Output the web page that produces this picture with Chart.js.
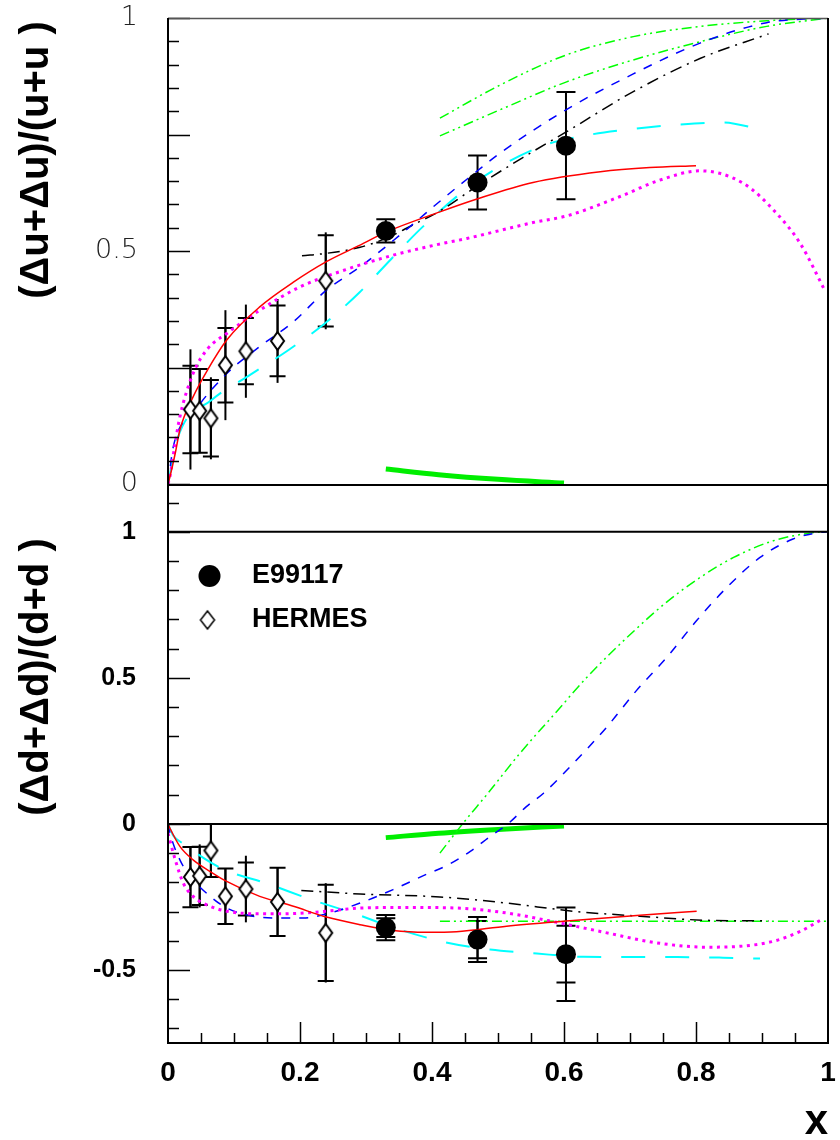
<!DOCTYPE html>
<html>
<head>
<meta charset="utf-8">
<script src="https://cdn.jsdelivr.net/npm/chart.js@4.4.0/dist/chart.umd.min.js"></script>
<style>
  html, body { margin: 0; padding: 0; background: #fff; }
  body { width: 840px; height: 1140px; position: relative; overflow: hidden; }
  canvas { position: absolute; left: 0; }
  #topChart { top: 0; }
  #bottomChart { top: 470px; }
</style>
</head>
<body>
<canvas id="topChart" width="840" height="520"></canvas>
<canvas id="bottomChart" width="840" height="690"></canvas>
<script>
// --- tick labels ---
const xTicks = [0, 0.2, 0.4, 0.6, 0.8, 1];
const yTopTicks = [0, 0.5, 1];
const yBottomTicks = [-0.5, 0, 0.5, 1];

// --- data points ---
const e99X = [0.330, 0.469, 0.603];
const e99TopY = [0.543, 0.647, 0.726];
const e99TopErr = [0.025, 0.058, 0.115];
const e99BotY = [-0.355, -0.396, -0.446];
const e99BotStat = [0.032, 0.064, 0.097];
const e99BotTot = [0.043, 0.077, 0.160];

const hermesX = [0.034, 0.048, 0.065, 0.087, 0.118, 0.166, 0.239];
const hermesTopY = [0.160, 0.157, 0.141, 0.255, 0.285, 0.307, 0.436];
const hermesTopStat = [0.094, 0.090, 0.082, 0.080, 0.071, 0.076, 0.098];
const hermesTopTot = [0.129, 0.091, 0.088, 0.118, 0.100, 0.090, 0.104];
const hermesBotY = [-0.182, -0.178, -0.091, -0.248, -0.223, -0.267, -0.373];
const hermesBotStat = [0.103, 0.100, 0.091, 0.095, 0.091, 0.117, 0.165];
const hermesBotTot = [0.105, 0.108, 0.093, 0.095, 0.114, 0.117, 0.170];

// --- curves, upper panel ---
const redTopX = [0, 0.003, 0.011, 0.018, 0.038, 0.06, 0.089, 0.139, 0.19, 0.24, 0.29, 0.331, 0.412, 0.467, 0.553, 0.655, 0.73, 0.8];
const redTopY = [0, 0.016, 0.066, 0.116, 0.187, 0.245, 0.309, 0.38, 0.433, 0.477, 0.512, 0.541, 0.584, 0.611, 0.647, 0.670, 0.679, 0.683];
const magTopX = [0, 0.003, 0.01, 0.018, 0.038, 0.06, 0.089, 0.139, 0.2, 0.261, 0.341, 0.412, 0.453, 0.553, 0.606, 0.685, 0.745, 0.806, 0.872, 0.922, 0.958, 0.995];
const magTopY = [0, 0.016, 0.08, 0.144, 0.237, 0.29, 0.323, 0.373, 0.423, 0.456, 0.491, 0.515, 0.527, 0.561, 0.576, 0.617, 0.652, 0.672, 0.645, 0.581, 0.516, 0.416];
const blueTopX = [0, 0.008, 0.038, 0.089, 0.139, 0.19, 0.24, 0.291, 0.341, 0.379, 0.402, 0.467, 0.503, 0.603, 0.705, 0.806, 0.907, 0.983, 1.0];
const blueTopY = [0, 0.08, 0.152, 0.237, 0.295, 0.348, 0.416, 0.466, 0.522, 0.567, 0.595, 0.67, 0.71, 0.803, 0.88, 0.946, 0.99, 0.999, 1.0];
const blackTopX = [0.203, 0.24, 0.291, 0.33, 0.371, 0.412, 0.467, 0.537, 0.604, 0.705, 0.806, 0.91];
const blackTopY = [0.490, 0.495, 0.508, 0.527, 0.556, 0.586, 0.638, 0.70, 0.756, 0.842, 0.913, 0.966];
const cyanTopX = [0, 0.015, 0.066, 0.122, 0.181, 0.238, 0.290, 0.339, 0.389, 0.470, 0.566, 0.629, 0.705, 0.771, 0.841, 0.898];
const cyanTopY = [0, 0.10, 0.18, 0.232, 0.286, 0.345, 0.411, 0.484, 0.556, 0.652, 0.725, 0.747, 0.762, 0.771, 0.776, 0.761];
const greenAX = [0.412, 0.503, 0.604, 0.705, 0.806, 0.907, 1.0];
const greenATopY = [0.785, 0.856, 0.921, 0.960, 0.982, 0.994, 1.0];
const greenBTopY = [0.747, 0.803, 0.863, 0.910, 0.949, 0.982, 1.0];
const thickX = [0.33, 0.41, 0.5, 0.6];
const thickTopY = [0.032, 0.02, 0.01, 0.002];

// --- curves, lower panel ---
const redBotX = [0, 0.003, 0.018, 0.038, 0.064, 0.089, 0.139, 0.190, 0.240, 0.291, 0.341, 0.392, 0.437, 0.513, 0.614, 0.715, 0.801];
const redBotY = [0, -0.015, -0.077, -0.123, -0.163, -0.197, -0.248, -0.282, -0.319, -0.345, -0.365, -0.371, -0.369, -0.350, -0.331, -0.313, -0.299];
const magBotX = [0, 0.011, 0.023, 0.038, 0.064, 0.089, 0.139, 0.190, 0.240, 0.291, 0.367, 0.437, 0.513, 0.589, 0.665, 0.740, 0.816, 0.867, 0.917, 0.958, 0.990];
const magBotY = [-0.032, -0.123, -0.202, -0.248, -0.282, -0.299, -0.308, -0.307, -0.299, -0.288, -0.286, -0.288, -0.305, -0.337, -0.373, -0.407, -0.422, -0.419, -0.402, -0.368, -0.328];
const blueBotX = [0, 0.003, 0.018, 0.038, 0.064, 0.089, 0.129, 0.165, 0.205, 0.24, 0.291, 0.341, 0.392, 0.422, 0.458, 0.488, 0.516, 0.543, 0.569, 0.614, 0.665, 0.710, 0.756, 0.801, 0.847, 0.897, 0.947, 0.988, 1.0];
const blueBotY = [0, -0.032, -0.123, -0.191, -0.248, -0.288, -0.316, -0.322, -0.322, -0.308, -0.271, -0.225, -0.172, -0.143, -0.094, -0.043, 0.002, 0.059, 0.105, 0.207, 0.332, 0.457, 0.571, 0.696, 0.810, 0.912, 0.975, 0.998, 1.0];
const blackBotX = [0.202, 0.291, 0.412, 0.513, 0.614, 0.715, 0.816, 0.91];
const blackBotY = [-0.228, -0.240, -0.250, -0.271, -0.299, -0.316, -0.330, -0.332];
const cyanBotX = [0, 0.008, 0.022, 0.081, 0.150, 0.218, 0.280, 0.347, 0.420, 0.488, 0.559, 0.629, 0.700, 0.771, 0.841, 0.897];
const cyanBotY = [0, -0.04, -0.066, -0.152, -0.204, -0.260, -0.305, -0.359, -0.405, -0.430, -0.444, -0.455, -0.456, -0.456, -0.458, -0.461];
const greenCX = [0.412, 0.447, 0.483, 0.533, 0.589, 0.634, 0.695, 0.756, 0.806, 0.857, 0.917, 0.978, 1.0];
const greenCBotY = [-0.10, 0.002, 0.10, 0.241, 0.385, 0.50, 0.637, 0.76, 0.843, 0.912, 0.969, 0.997, 1.0];
const greenDX = [0.412, 0.6, 0.8, 1.0];
const greenDBotY = [-0.333, -0.333, -0.333, -0.333];
const thickBotY = [-0.047, -0.032, -0.019, -0.007];

const toPts = (xs, ys) => xs.map((x, i) => ({ x, y: ys[i] }));

// open diamond marker (taller than wide)
function diamond(w, h, lw) {
    const c = document.createElement('canvas');
    c.width = w + 4; c.height = h + 4;
    const g = c.getContext('2d');
    g.beginPath();
    g.moveTo(c.width / 2, 2);
    g.lineTo(c.width - 2, c.height / 2);
    g.lineTo(c.width / 2, c.height - 2);
    g.lineTo(2, c.height / 2);
    g.closePath();
    g.fillStyle = '#fff';
    g.fill();
    g.lineWidth = lw;
    g.strokeStyle = '#000';
    g.stroke();
    return c;
}
const diamondImg = diamond(13, 18, 2);

function curve(label, xs, ys, color, width, dash) {
    return {
        label, data: toPts(xs, ys), showLine: true,
        borderColor: color, backgroundColor: color,
        borderWidth: width, borderDash: dash || [], borderCapStyle: 'butt',
        pointRadius: 0, pointHoverRadius: 0,
        cubicInterpolationMode: 'monotone', fill: false, order: 2
    };
}

function marks(label, xs, ys, style) {
    const ds = {
        label, data: toPts(xs, ys), showLine: false, order: 0,
        pointHoverRadius: 0
    };
    if (style === 'circle') {
        Object.assign(ds, { pointStyle: 'circle', pointRadius: 10, backgroundColor: '#000', borderColor: '#000', borderWidth: 0 });
    } else {
        Object.assign(ds, { pointStyle: diamondImg, pointRadius: 9 });
    }
    return ds;
}

function errBars(chart, xs, ys, errs, capW, withCaps) {
    const { ctx, scales: { x, y } } = chart;
    ctx.save();
    ctx.strokeStyle = '#000';
    ctx.lineWidth = 2;
    xs.forEach((xv, i) => {
        const px = x.getPixelForValue(xv);
        const t = y.getPixelForValue(ys[i] + errs[i]);
        const b = y.getPixelForValue(ys[i] - errs[i]);
        ctx.beginPath();
        ctx.moveTo(px, t); ctx.lineTo(px, b);
        if (withCaps) {
            ctx.moveTo(px - capW / 2, t); ctx.lineTo(px + capW / 2, t);
            ctx.moveTo(px - capW / 2, b); ctx.lineTo(px + capW / 2, b);
        }
        ctx.stroke();
    });
    ctx.restore();
}

function yTickMarks(chart, from, to, step, major) {
    const { ctx, chartArea: a, scales: { y } } = chart;
    ctx.save();
    ctx.strokeStyle = '#000';
    ctx.lineWidth = 1.5;
    ctx.beginPath();
    for (let k = Math.round(from / step); k <= Math.round(to / step); k++) {
        const v = k * step;
        const isMajor = Math.abs(v / major - Math.round(v / major)) < 1e-6;
        const py = Math.round(y.getPixelForValue(v)) + 0.5;
        ctx.moveTo(a.left, py);
        ctx.lineTo(a.left + (isMajor ? 22 : 11), py);
    }
    ctx.stroke();
    ctx.restore();
}

function yTitle(ctx, text, cx, cy) {
    ctx.save();
    ctx.translate(cx, cy);
    ctx.rotate(-Math.PI / 2);
    ctx.font = 'bold 40px "Liberation Sans", Arial, sans-serif';
    ctx.textAlign = 'center';
    ctx.textBaseline = 'middle';
    ctx.fillStyle = '#000';
    ctx.fillText(text, 0, 0);
    ctx.restore();
}

const topDecor = {
    id: 'topDecor',
    beforeDatasetsDraw(chart) {
        errBars(chart, hermesX, hermesTopY, hermesTopTot, 16, false);
        errBars(chart, hermesX, hermesTopY, hermesTopStat, 16, true);
        errBars(chart, e99X, e99TopY, e99TopErr, 19, true);
    },
    afterDraw(chart) {
        const { ctx, chartArea: a } = chart;
        yTickMarks(chart, 0, 1, 0.05, 0.25);
        ctx.save();
        ctx.strokeStyle = '#555';
        ctx.lineWidth = 1.5;
        ctx.beginPath();
        ctx.moveTo(a.left, a.top + 0.5); ctx.lineTo(a.right, a.top + 0.5);
        ctx.stroke();
        ctx.strokeStyle = '#000';
        ctx.lineWidth = 2;
        ctx.beginPath();
        ctx.moveTo(a.left, a.top); ctx.lineTo(a.left, a.bottom);
        ctx.moveTo(a.right, a.top); ctx.lineTo(a.right, a.bottom);
        ctx.stroke();
        ctx.restore();
        yTitle(ctx, '(\u0394u+\u0394u)/(u+u )', 37, 160);
    }
};

const bottomDecor = {
    id: 'bottomDecor',
    beforeDatasetsDraw(chart) {
        errBars(chart, hermesX, hermesBotY, hermesBotTot, 16, false);
        errBars(chart, hermesX, hermesBotY, hermesBotStat, 16, true);
        errBars(chart, e99X, e99BotY, e99BotTot, 19, true);
        errBars(chart, e99X, e99BotY, e99BotStat, 19, true);
    },
    afterDraw(chart) {
        const { ctx, chartArea: a, scales: { x, y } } = chart;
        yTickMarks(chart, -0.7, 1.1, 0.1, 0.5);
        ctx.save();
        ctx.strokeStyle = '#000';
        // x ticks
        ctx.lineWidth = 1.5;
        ctx.beginPath();
        for (let k = 1; k < 20; k++) {
            const px = Math.round(x.getPixelForValue(k * 0.05)) + 0.5;
            ctx.moveTo(px, a.bottom);
            ctx.lineTo(px, a.bottom - (k % 4 === 0 ? 21 : 10));
        }
        ctx.stroke();
        // reference lines at 0 and 1
        ctx.lineWidth = 2;
        ctx.beginPath();
        [0, 1].forEach(v => {
            const py = y.getPixelForValue(v);
            ctx.moveTo(a.left, py); ctx.lineTo(a.right, py);
        });
        ctx.stroke();
        // frame
        ctx.lineWidth = 2;
        ctx.strokeRect(a.left, a.top, a.right - a.left, a.bottom - a.top);
        // legend
        ctx.fillStyle = '#000';
        ctx.beginPath();
        ctx.arc(209.5, 106, 11, 0, Math.PI * 2);
        ctx.fill();
        ctx.drawImage(diamond(14, 18, 1.5), 207.5 - 9, 150 - 11);
        ctx.font = 'bold 27px "Liberation Sans", Arial, sans-serif';
        ctx.textAlign = 'left';
        ctx.textBaseline = 'middle';
        ctx.fillText('E99117', 252, 106);
        ctx.fillText('HERMES', 252, 150);
        ctx.restore();
        yTitle(ctx, '(\u0394d+\u0394d)/(d+d )', 37, 207);
    }
};

new Chart(document.getElementById('topChart'), {
    type: 'scatter',
    data: {
        datasets: [
            marks('E99117', e99X, e99TopY, 'circle'),
            marks('HERMES', hermesX, hermesTopY, 'diamond'),
            curve('red', redTopX, redTopY, '#ff0000', 1.5),
            curve('magenta', magTopX, magTopY, '#ff00ff', 3, [3, 4.5]),
            curve('blue', blueTopX, blueTopY, '#0000ff', 1.5, [9, 9]),
            curve('black', blackTopX, blackTopY, '#000000', 1.5, [12, 6, 2, 6]),
            curve('cyan', cyanTopX, cyanTopY, '#00ffff', 2, [24, 20]),
            curve('greenA', greenAX, greenATopY, '#00ff00', 1.5, [10, 4, 2, 4, 2, 4]),
            curve('greenB', greenAX, greenBTopY, '#00ff00', 1.5, [10, 4, 2, 4, 2, 4]),
            curve('thick', thickX, thickTopY, '#00ee00', 5)
        ]
    },
    options: {
        responsive: false,
        animation: false,
        events: [],
        devicePixelRatio: 1,
        layout: { padding: { top: 18, right: 12, bottom: 36, left: 0 } },
        plugins: { legend: { display: false }, tooltip: { enabled: false } },
        scales: {
            x: { type: 'linear', min: 0, max: 1, display: false },
            y: {
                type: 'linear', min: 0, max: 1,
                afterFit(scale) { scale.width = 168; },
                afterBuildTicks(scale) { scale.ticks = yTopTicks.map(v => ({ value: v })); },
                grid: { display: false, drawTicks: true, tickLength: 30 },
                border: { display: false },
                ticks: {
                    padding: 0, color: '#222',
                    font: { family: '"DejaVu Sans", sans-serif', size: 27, weight: '200' },
                    callback: v => String(v)
                }
            }
        }
    },
    plugins: [topDecor]
});

new Chart(document.getElementById('bottomChart'), {
    type: 'scatter',
    data: {
        datasets: [
            marks('E99117', e99X, e99BotY, 'circle'),
            marks('HERMES', hermesX, hermesBotY, 'diamond'),
            curve('red', redBotX, redBotY, '#ff0000', 1.5),
            curve('magenta', magBotX, magBotY, '#ff00ff', 3, [3, 4.5]),
            curve('blue', blueBotX, blueBotY, '#0000ff', 1.5, [9, 9]),
            curve('black', blackBotX, blackBotY, '#000000', 1.5, [12, 6, 2, 6]),
            curve('cyan', cyanBotX, cyanBotY, '#00ffff', 2, [24, 20]),
            curve('greenC', greenCX, greenCBotY, '#00ff00', 1.5, [10, 4, 2, 4, 2, 4]),
            curve('greenD', greenDX, greenDBotY, '#00ff00', 1.5, [10, 4, 2, 4, 2, 4]),
            curve('thick', thickX, thickBotY, '#00ee00', 5)
        ]
    },
    options: {
        responsive: false,
        animation: false,
        events: [],
        devicePixelRatio: 1,
        layout: { padding: { top: 14, right: 12, bottom: 0, left: 0 } },
        plugins: { legend: { display: false }, tooltip: { enabled: false } },
        scales: {
            x: {
                type: 'linear', min: 0, max: 1,
                afterFit(scale) { scale.height = 117; },
                afterBuildTicks(scale) { scale.ticks = xTicks.map(v => ({ value: v })); },
                grid: { display: false, drawTicks: true, tickLength: 13 },
                border: { display: false },
                ticks: {
                    padding: 0, color: '#000', maxRotation: 0,
                    font: { family: '"Liberation Sans", Arial, sans-serif', size: 28, weight: 'bold' },
                    callback: v => String(v)
                },
                title: {
                    display: true, text: 'x', align: 'end', color: '#000',
                    padding: { top: 0, bottom: 12 },
                    font: { family: '"Liberation Sans", Arial, sans-serif', size: 42, weight: 'bold' }
                }
            },
            y: {
                type: 'linear', min: -0.75, max: 1.16,
                afterFit(scale) { scale.width = 168; },
                afterBuildTicks(scale) { scale.ticks = yBottomTicks.map(v => ({ value: v })); },
                grid: { display: false, drawTicks: true, tickLength: 32 },
                border: { display: false },
                ticks: {
                    padding: 0, color: '#000',
                    font: { family: '"Liberation Sans", Arial, sans-serif', size: 25, weight: 'bold' },
                    callback: v => String(v)
                }
            }
        }
    },
    plugins: [bottomDecor]
});
</script>
</body>
</html>
